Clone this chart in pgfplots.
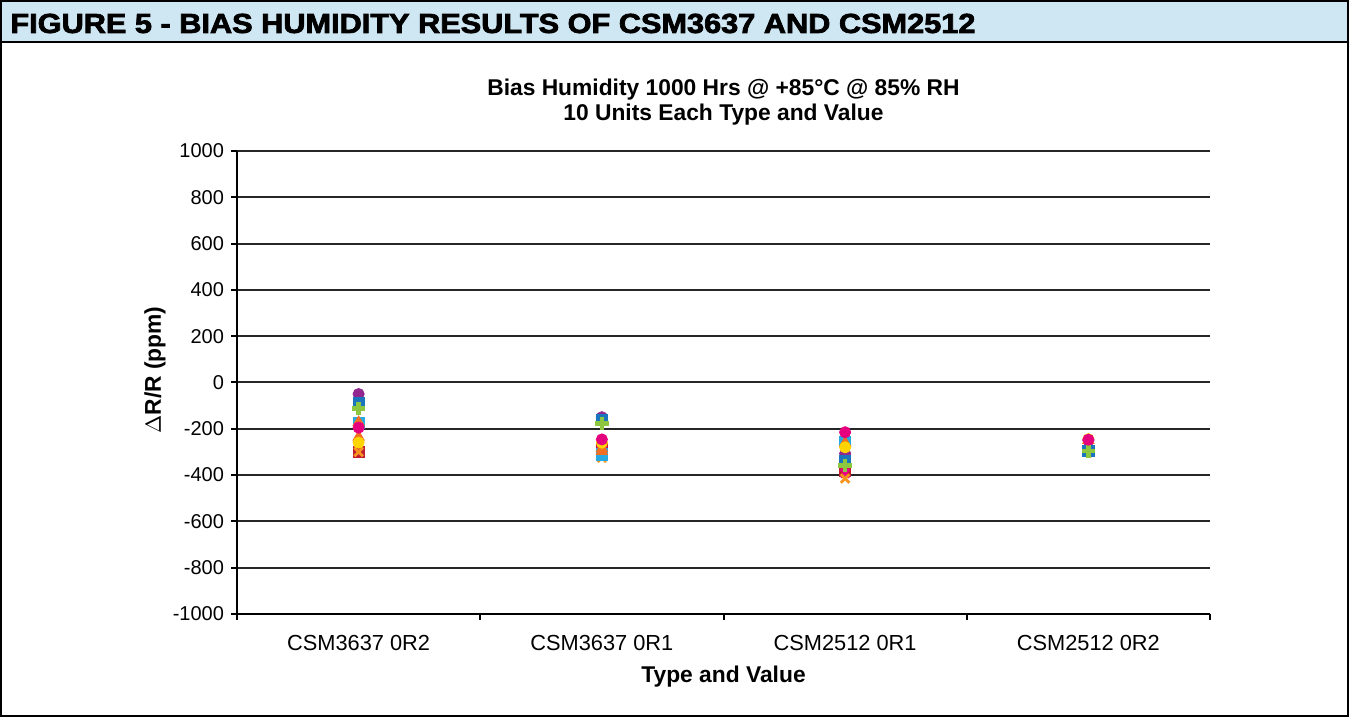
\documentclass[border=0pt]{standalone}
\usepackage{pgfplots}
\pgfplotsset{compat=1.18}
\usepackage{fontspec}
\setmainfont{Liberation Sans}
\definecolor{hdr}{HTML}{CFE6F3}
\definecolor{cMag}{HTML}{E5007D}
\definecolor{cOra}{HTML}{F36F21}
\definecolor{cYel}{HTML}{FFD400}
\definecolor{cPur}{HTML}{92278F}
\definecolor{cBlu}{HTML}{1B75BC}
\definecolor{cGrn}{HTML}{8DC63F}
\definecolor{cRed}{HTML}{BE1E2D}
\definecolor{cOrx}{HTML}{F7941D}
\definecolor{cCya}{HTML}{27AAE1}
\definecolor{cPnk}{HTML}{EC008C}
\begin{document}
\begin{tikzpicture}
\useasboundingbox (0,0) rectangle (674.5pt,358.5pt);
\fill[hdr] (0,337.5pt) rectangle (674.5pt,358.5pt);
\draw[line width=1pt] (0,337.5pt) -- (674.5pt,337.5pt);
\draw[line width=1pt] (0.5pt,0.5pt) rectangle (674pt,358pt);
\node[anchor=west,inner sep=0pt] at (5pt,346.75pt) {\resizebox{482.5pt}{9.6pt}{\bfseries\addfontfeature{FakeBold=2.5}FIGURE 5 - BIAS HUMIDITY RESULTS OF CSM3637 AND CSM2512}};
\node[font=\fontsize{11.4}{12.2}\selectfont\bfseries,align=center] at (361.75pt,307.5pt) {Bias Humidity 1000 Hrs @ +85°C @ 85\% RH\\10 Units Each Type and Value};
\node[font=\fontsize{11.4}{13}\selectfont\bfseries,rotate=90] at (77.5pt,173.5pt) {$\Delta$R/R (ppm)};
\node[font=\fontsize{11.4}{13}\selectfont\bfseries] at (361.75pt,20pt) {Type and Value};
\begin{axis}[
  at={(118.5pt,51.5pt)}, anchor=south west, scale only axis,
  width=486.5pt, height=231.5pt,
  xmin=0.5, xmax=4.5, ymin=-1000, ymax=1000,
  ytick distance=200,
  xtick={1,2,3,4},
  xticklabels={CSM3637 0R2,CSM3637 0R1,CSM2512 0R1,CSM2512 0R2},
  minor xtick={0.5,1.5,2.5,3.5,4.5},
  major x tick style={draw=none},
  axis x line*=bottom, axis y line*=left,
  axis line style={line width=1pt,black},
  tick align=outside,
  major tick length=3pt, minor tick length=3pt,
  every tick/.style={line width=1pt,black},
  ymajorgrids, grid style={line width=1pt,black!85},
  /pgf/number format/1000 sep={},
  /pgf/number format/assume math mode=true,
  yticklabel style={font=\fontsize{10}{12}\selectfont},
  xticklabel style={font=\fontsize{10.9}{12}\selectfont,yshift=-4pt},
  clip=false,
  mark size=2.8pt,
  every axis plot/.append style={only marks},
]
\addplot[mark=*, mark options={fill=cPur,draw=cPur}] coordinates {(1,-50)(2,-150)(3,-307)(4,-250)};
\addplot[mark=square*, mark options={fill=cRed,draw=cRed}] coordinates {(1,-300)(2,-281)(3,-383)(4,-297)};
\addplot[mark=x, mark size=3pt, mark options={draw=cPnk,line width=1.4pt}] coordinates {(1,-300)(2,-292)(3,-392)(4,-300)};
\addplot[mark=x, mark size=3pt, mark options={draw=cOrx,line width=1.4pt}] coordinates {(1,-300)(2,-325)(3,-415)(4,-300)};
\addplot[mark=square*, mark options={fill=cCya,draw=cCya}] coordinates {(1,-175)(2,-311)(3,-255)(4,-297)};
\addplot[mark=square*, mark options={fill=cBlu,draw=cBlu}] coordinates {(1,-90)(2,-162)(3,-340)(4,-297)};
\addplot[mark=+, mark size=3.4pt, mark options={draw=cGrn,line width=2.2pt}] coordinates {(1,-112)(2,-177)(3,-358)(4,-297)};
\addplot[mark=triangle*, mark size=3.2pt, mark options={fill=cOra,draw=cOra}] coordinates {(1,-172)(2,-297)(3,-262)(4,-250)};
\addplot[mark=triangle*, mark size=3.2pt, mark options={fill=cOra,draw=cOra}] coordinates {(1,-235)(2,-285)(3,-262)(4,-250)};
\addplot[mark=*, mark options={fill=cYel,draw=cYel}] coordinates {(1,-260)(2,-260)(3,-280)(4,-245)};
\addplot[mark=*, mark options={fill=cMag,draw=cMag}] coordinates {(1,-195)(2,-246)(3,-215)(4,-247)};
\end{axis}
\end{tikzpicture}
\end{document}
